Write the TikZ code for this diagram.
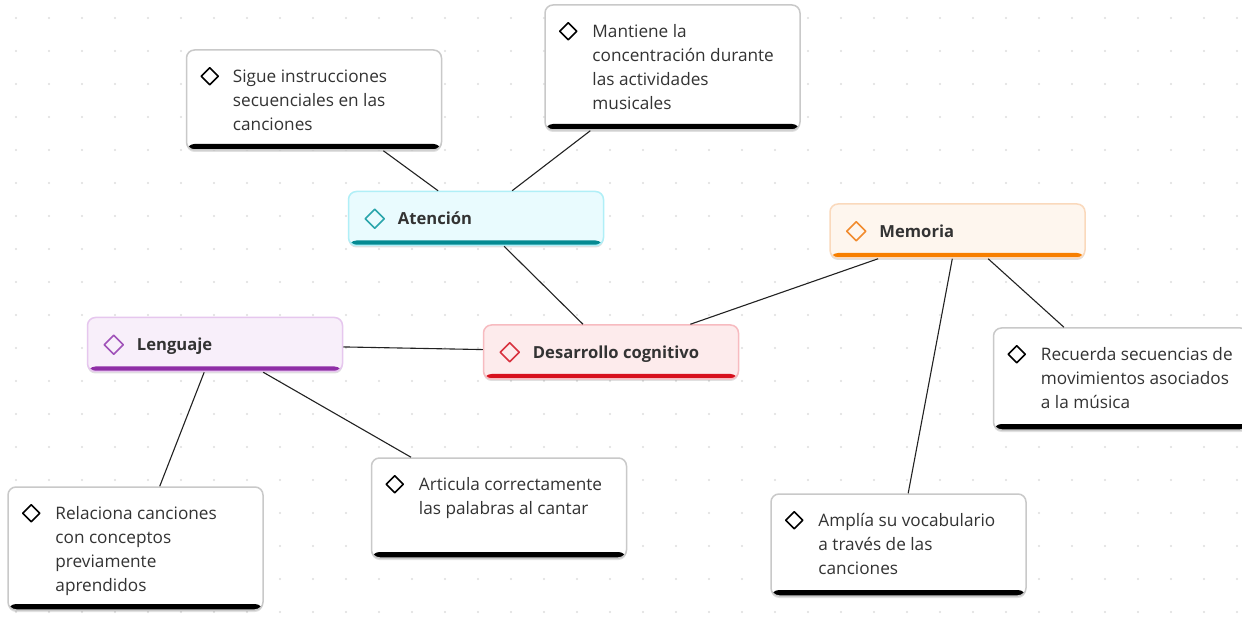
\documentclass[tikz,border=0pt]{standalone}
\usepackage{fontspec}
\setmainfont{Open Sans}
\usetikzlibrary{calc,shadows}
\definecolor{textc}{HTML}{333333}
\definecolor{leafborder}{HTML}{C9C9C9}
\definecolor{connc}{HTML}{222222}
\definecolor{dotc}{HTML}{DDDDDD}
\definecolor{atfill}{HTML}{E9FBFE}\definecolor{atborder}{HTML}{B0EFF7}\definecolor{atbar}{HTML}{048A92}\definecolor{atdiam}{HTML}{2AA5AB}
\definecolor{defill}{HTML}{FDEBEC}\definecolor{deborder}{HTML}{F7BBC0}\definecolor{debar}{HTML}{D7101D}\definecolor{dediam}{HTML}{D8323F}
\definecolor{mefill}{HTML}{FEF6EE}\definecolor{meborder}{HTML}{FAD9BC}\definecolor{mebar}{HTML}{F77F00}\definecolor{mediam}{HTML}{F18B2E}
\definecolor{lefill}{HTML}{F8EFFA}\definecolor{leborder}{HTML}{E6C7EE}\definecolor{lebar}{HTML}{8F2EA6}\definecolor{lediam}{HTML}{A052B9}
\newcommand{\lines}[1]{\parbox[t]{230pt}{\raggedright #1}}
\tikzset{
  box/.style={rectangle, rounded corners=8pt, minimum width=255pt, inner sep=0pt, line width=1.5pt,
    drop shadow={shadow xshift=0pt, shadow yshift=-2pt, opacity=0.12, fill=black}},
  leaf/.style={box, draw=leafborder, fill=white, minimum height=#1,
    path picture={\fill[black] ([yshift=6pt]path picture bounding box.south west) rectangle (path picture bounding box.south east);}},
  topic/.style n args={3}{box, fill=#1, draw=#2, minimum height=54pt,
    path picture={\fill[#3] ([yshift=5pt]path picture bounding box.south west) rectangle (path picture bounding box.south east);}},
  leaftext/.style={anchor=base west, inner sep=0pt, text=textc, font=\fontsize{17.2}{24}\selectfont},
  topictext/.style={leaftext, font=\fontsize{16.6}{24}\selectfont\bfseries},
  conn/.style={draw=connc, line width=1.1pt},
  diamleaf/.style={draw=black, line width=1.5pt, line join=round},
  diamtopic/.style={draw=#1, line width=1.5pt, line join=round},
  griddot/.style={fill=dotc},
}
\begin{document}
\begin{tikzpicture}[x=1pt,y=-1pt]
\useasboundingbox (0,0) rectangle (1242,617);
\fill[white] (0,0) rectangle (1242,617);
\foreach \i in {0,...,37}{\foreach \j in {0,...,18}{
  \fill[griddot] (16+33*\i,18+33*\j) circle (1.2pt);}}
% topic nodes
\node[topic={atfill}{atborder}{atbar}] (at) at (476,218.5) {};
\node[topic={defill}{deborder}{debar}] (de) at (611,352) {};
\node[topic={mefill}{meborder}{mebar}] (me) at (957.5,231) {};
\node[topic={lefill}{leborder}{lebar}] (le) at (215,344.5) {};
% leaf nodes
\node[leaf=100pt] (s1) at (314,100) {};
\node[leaf=125pt] (s2) at (672.5,67.5) {};
\node[leaf=102pt] (r1) at (1121,379) {};
\node[leaf=123pt] (l1) at (135.5,548.5) {};
\node[leaf=100pt] (l2) at (499,508) {};
\node[leaf=102pt] (m2) at (898.5,545) {};
% connectors (clipped at node borders)
\draw[conn] (s1) -- (at);
\draw[conn] (s2) -- (at);
\draw[conn] (at) -- (de);
\draw[conn] (me) -- (de);
\draw[conn] (le) -- (de);
\draw[conn] (le) -- (l1);
\draw[conn] (le) -- (l2);
\draw[conn] (me) -- (r1);
\draw[conn] (me) -- (m2);
% topic texts and diamonds
\foreach \n/\c/\t in {at/atdiam/Atención, de/dediam/Desarrollo cognitivo, me/mediam/Memoria, le/lediam/Lenguaje}{
  \draw[diamtopic=\c] ($(\n.north west)+(27,28)$) +(-9.5,0) -- +(0,-9.5) -- +(9.5,0) -- +(0,9.5) -- cycle;
  \node[topictext] (\n t) at ($(\n.north west)+(50,34)$) {\t};
}
% leaf texts and diamonds
\foreach \n in {s1,s2,r1,l1,l2,m2}{
  \draw[diamleaf] ($(\n.north west)+(24,27)$) +(-8.5,0) -- +(0,-8.5) -- +(8.5,0) -- +(0,8.5) -- cycle;
}
\node[leaftext] (s1t) at ($(s1.north west)+(47,33)$) {\lines{Sigue instrucciones\\secuenciales en las\\canciones}};
\node[leaftext] (s2t) at ($(s2.north west)+(48,33)$) {\lines{Mantiene la\\concentración durante\\las actividades\\musicales}};
\node[leaftext] (r1t) at ($(r1.north west)+(48,33)$) {\lines{Recuerda secuencias de\\movimientos asociados\\a la música}};
\node[leaftext] (l1t) at ($(l1.north west)+(48,33)$) {\lines{Relaciona canciones\\con conceptos\\previamente\\aprendidos}};
\node[leaftext] (l2t) at ($(l2.north west)+(48,33)$) {\lines{Articula correctamente\\las palabras al cantar}};
\node[leaftext] (m2t) at ($(m2.north west)+(48,33)$) {\lines{Amplía su vocabulario\\a través de las\\canciones}};
\end{tikzpicture}
\end{document}
